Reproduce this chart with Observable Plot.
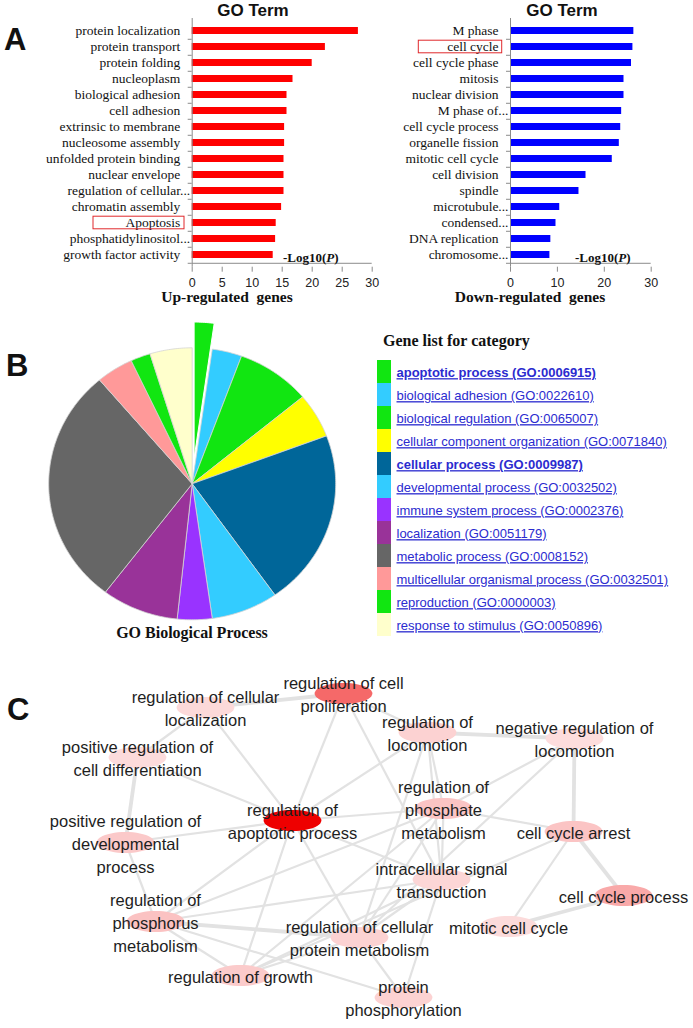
<!DOCTYPE html>
<html><head><meta charset="utf-8">
<script src="https://cdn.jsdelivr.net/npm/d3@7"></script>
<script src="https://cdn.jsdelivr.net/npm/@observablehq/plot@0.6"></script>
<style>
body{margin:0;background:#fff;}
#root{position:relative;width:693px;height:1028px;overflow:hidden;background:#fff;}
.t{position:absolute;white-space:pre;line-height:1;}
.legendplot text{text-decoration:underline;}
</style></head><body><div id="root"></div>
<script>
// ---------- Panel A data ----------
const upTerms = ["protein localization","protein transport","protein folding","nucleoplasm","biological adhesion","cell adhesion","extrinsic to membrane","nucleosome assembly","unfolded protein binding","nuclear envelope","regulation of cellular...","chromatin assembly","Apoptosis","phosphatidylinositol...","growth factor activity"];
const upValues = [27.7,22.2,20.0,16.8,15.8,15.8,15.4,15.4,15.3,15.3,15.3,14.9,14.0,13.9,13.5];
const downTerms = ["M phase","cell cycle","cell cycle phase","mitosis","nuclear division","M phase of...","cell cycle process","organelle fission","mitotic cell cycle","cell division","spindle","microtubule...","condensed...","DNA replication","chromosome..."];
const downValues = [26.3,26.1,25.8,24.2,24.2,23.7,23.5,23.2,21.7,16.1,14.6,10.5,9.7,8.6,8.4];
const upTicks = [0,5,10,15,20,25,30];
const downTicks = [0,10,20,30];
const upHighlight = ["Apoptosis"];
const downHighlight = ["cell cycle"];

// ---------- Panel B data ----------
const bpCategories = ["apoptotic process","biological adhesion","biological regulation","cellular component organization","cellular process","developmental process","immune system process","localization","metabolic process","multicellular organismal process","reproduction","response to stimulus"];
const bpIds = ["GO:0006915","GO:0022610","GO:0065007","GO:0071840","GO:0009987","GO:0032502","GO:0002376","GO:0051179","GO:0008152","GO:0032501","GO:0000003","GO:0050896"];
const bpCounts = [8,12,30,19,75,27,14,31,102,15,8,17];
const bpColors = ["#11e611","#33ccff","#11e611","#ffff00","#006699","#33ccff","#9933ff","#993399","#666666","#ff9999","#11e611","#ffffcc"];
const bpExploded = ["apoptotic process"];
const bpBold = ["apoptotic process","cellular process"];

// ---------- Panel C data ----------
const netIds = ["prolif","cellLoc","cellDiff","locom","negLocom","phosphate","apopt","devel","arrest","intra","ccProc","phosphorus","protMet","mitotic","growth","phosphoryl"];
const netLabels = ["regulation of cell\nproliferation","regulation of cellular\nlocalization","positive regulation of\ncell differentiation","regulation of\nlocomotion","negative regulation of\nlocomotion","regulation of\nphosphate\nmetabolism","regulation of\napoptotic process","positive regulation of\ndevelopmental\nprocess","cell cycle arrest","intracellular signal\ntransduction","cell cycle process","regulation of\nphosphorus\nmetabolism","regulation of cellular\nprotein metabolism","mitotic cell cycle","regulation of growth","protein\nphosphorylation"];
const netX = [343,205,137,427,574,443,292,125,573,441,623,155,359,508,240,403];
const netY = [693,707,757,732,738,808,820,842,831,879,895,921,937,926,975,997];
const netScore = [0.54,0.05,0.04,0.08,0.03,0.14,1,0.12,0.14,0.06,0.26,0.15,0.08,0.04,0.11,0.08];
const edgeFrom = ["cellLoc","cellLoc","cellLoc","cellDiff","cellDiff","devel","devel","prolif","prolif","prolif","locom","locom","locom","locom","locom","negLocom","negLocom","negLocom","phosphate","phosphate","phosphate","phosphate","phosphate","phosphate","apopt","apopt","apopt","apopt","arrest","arrest","arrest","ccProc","intra","intra","intra","intra","phosphorus","phosphorus","phosphorus","protMet","protMet"];
const edgeTo = ["prolif","apopt","cellDiff","apopt","devel","apopt","phosphorus","apopt","intra","locom","negLocom","apopt","phosphate","intra","protMet","arrest","phosphate","protMet","apopt","arrest","phosphorus","protMet","growth","intra","intra","phosphorus","growth","protMet","ccProc","mitotic","growth","mitotic","phosphorus","growth","protMet","phosphoryl","protMet","growth","phosphoryl","growth","phosphoryl"];
const edgeWeight = [2,1,1,1,2,1,1,1,1,1,2,1,1,1,1,2,1,1,1,1,1,1,1,1,1,1,1,1,2,1,1,2,1,1,1,1,2,1,1,1,1];

// ---------- helpers ----------
const root = document.getElementById("root");
const SERIF = "'Liberation Serif','Times New Roman',serif";
const SANS = "'Liberation Sans',Arial,sans-serif";
function place(el, left, top) {
  el.style.position = "absolute"; el.style.left = left + "px"; el.style.top = top + "px";
  root.appendChild(el); return el;
}
function label(html, x, baseline, {size = 15, weight = "bold", family = SERIF, anchor = "start", color = "#111"} = {}) {
  const d = document.createElement("div");
  d.className = "t"; d.innerHTML = html;
  Object.assign(d.style, {fontSize: size + "px", fontWeight: weight, fontFamily: family, color,
    left: x + "px", top: (baseline - 0.84 * size) + "px"});
  if (anchor === "middle") d.style.transform = "translateX(-50%)";
  if (anchor === "end") d.style.transform = "translateX(-100%)";
  root.appendChild(d);
}

// ---------- Panel A ----------
function barChart(terms, values, ticks, highlight, color, o) {
  const data = terms.map((term, i) => ({term, value: values[i]}));
  const top = 18, bottom = 266.7, H = 310;
  const step = (bottom - top) / terms.length;
  const axisColor = "#8c8c8c";
  const labelStyle = {x: 0, y: "term", text: "term", textAnchor: "end", fontSize: 13.5, fontFamily: SERIF, fill: "#111"};
  return Plot.plot({
    width: o.width, height: H,
    marginLeft: o.ml, marginRight: o.width - o.ml - o.plotW, marginTop: top, marginBottom: H - bottom,
    style: {background: "transparent", overflow: "visible", color: "#222"},
    x: {domain: [0, 30]},
    y: {domain: terms, paddingInner: 0.55, paddingOuter: 0.275},
    marks: [
      Plot.barX(data, {x: "value", y: "term", fill: color}),
      Plot.ruleX([0], {stroke: axisColor}),
      Plot.ruleY([terms[terms.length - 1]], {dy: step / 2, stroke: axisColor}),
      Plot.axisY({tickSize: 4, tickFormat: () => "", dy: step / 2, stroke: axisColor, label: null}),
      Plot.axisX({ticks, tickSize: 5, tickPadding: 6, fontSize: 12.5, fontFamily: SANS, stroke: axisColor, label: null}),
      Plot.text(data.filter(d => !d.term.endsWith("...")), {...labelStyle, dx: -12}),
      Plot.text(data.filter(d => d.term.endsWith("...")), {...labelStyle, dx: -2}),
      Plot.barX(highlight, {y: d => d, x1: 0, x2: 0, insetLeft: o.boxL, insetRight: o.boxR, insetTop: -2.8, insetBottom: -2.8, fill: "none", stroke: "#e0282c", strokeWidth: 1})
    ]
  });
}
place(barChart(upTerms, upValues, upTicks, upHighlight, "#ff0000", {width: 390, ml: 191.7, plotW: 180, boxL: -98.7, boxR: 7.7}), 0, 0);
place(barChart(downTerms, downValues, downTicks, downHighlight, "#0000ff", {width: 303, ml: 120, plotW: 140.7, boxL: -91.7, boxR: 8.3}), 390, 0);

label("A", 4, 50, {size: 31, family: SANS});
label("GO Term", 253, 16, {size: 17, family: SANS, anchor: "middle"});
label("GO Term", 562, 16, {size: 17, family: SANS, anchor: "middle"});
label("-Log10(<i>P</i>)", 283, 262, {size: 13});
label("-Log10(<i>P</i>)", 575, 262, {size: 13});
label("Up-regulated&nbsp; genes", 227, 302.5, {size: 15.5, anchor: "middle"});
label("Down-regulated&nbsp; genes", 530, 302.5, {size: 15.5, anchor: "middle"});

// ---------- Panel B: pie ----------
const arcs = d3.pie().sort(null).value(d => d)(bpCounts);
const piePts = [];
arcs.forEach((a, i) => {
  const cat = bpCategories[i];
  const off = bpExploded.includes(cat) ? 0.19 : 0;
  const mid = (a.startAngle + a.endAngle) / 2;
  const cx = off * Math.sin(mid), cy = off * Math.cos(mid);
  piePts.push({cat, x: cx, y: cy});
  const n = Math.max(2, Math.ceil((a.endAngle - a.startAngle) / 0.015));
  for (let k = 0; k <= n; k++) {
    const t = a.startAngle + (a.endAngle - a.startAngle) * k / n;
    piePts.push({cat, x: cx + Math.sin(t), y: cy + Math.cos(t)});
  }
  piePts.push({cat, x: cx, y: cy});
});
const colorScale = {domain: bpCategories, range: bpColors};
place(Plot.plot({
  width: 360, height: 340, marginLeft: 48.2, marginRight: 24.8, marginTop: 37.3, marginBottom: 30.7,
  style: {background: "transparent", overflow: "visible"},
  x: {domain: [-1, 1], axis: null}, y: {domain: [-1, 1], axis: null},
  color: colorScale,
  marks: [
    Plot.line(piePts.filter(d => !bpExploded.includes(d.cat)), {x: "x", y: "y", z: "cat", fill: "cat", stroke: "#d4d4d4", strokeWidth: 0.8}),
    Plot.line(piePts.filter(d => bpExploded.includes(d.cat)), {x: "x", y: "y", z: "cat", fill: "cat", stroke: "#ffffff", strokeWidth: 1})
  ]
}), 0, 310);
label("B", 6, 376, {size: 31, family: SANS});
label("GO Biological Process", 192, 638, {size: 16, anchor: "middle"});

// ---------- Panel B: legend ----------
const legendRows = bpCategories.map((cat, i) => ({cat, text: cat + " (" + bpIds[i] + ")", bold: bpBold.includes(cat)}));
place(Plot.plot({
  className: "legendplot",
  width: 333, height: 330, marginLeft: 16.7, marginRight: 302, marginTop: 36.7, marginBottom: 10,
  style: {background: "transparent", overflow: "visible"},
  x: {type: "band", domain: ["swatch"], padding: 0, axis: null},
  y: {domain: bpCategories, padding: 0, axis: null},
  color: colorScale,
  marks: [
    Plot.cell(bpCategories, {x: () => "swatch", y: d => d, fill: d => d, inset: 0}),
    Plot.text(legendRows.filter(d => !d.bold), {x: () => "swatch", y: "cat", text: "text", textAnchor: "start", dx: 12, dy: 1, fill: "#2b2bcf", fontSize: 13, fontFamily: SANS}),
    Plot.text(legendRows.filter(d => d.bold), {x: () => "swatch", y: "cat", text: "text", textAnchor: "start", dx: 12, dy: 1, fill: "#2b2bcf", fontSize: 13, fontWeight: "bold", fontFamily: SANS})
  ]
}), 360, 320);
label("Gene list for category", 383, 346, {size: 16});

// ---------- Panel C: network ----------
const nodes = netIds.map((id, i) => ({id, label: netLabels[i], x: netX[i], y: netY[i], score: netScore[i]}));
const byId = Object.fromEntries(nodes.map(d => [d.id, d]));
const edges = edgeFrom.map((f, i) => ({from: byId[f], to: byId[edgeTo[i]], w: edgeWeight[i]}));
const ellipseSymbol = {
  draw(ctx, size) {
    const r = Math.sqrt(size / Math.PI), rx = r * 2.75, ry = r, n = 48;
    for (let k = 0; k < n; k++) {
      const a = 2 * Math.PI * k / n;
      const px = rx * Math.cos(a), py = ry * Math.sin(a);
      if (k === 0) ctx.moveTo(px, py); else ctx.lineTo(px, py);
    }
    ctx.closePath();
  }
};
place(Plot.plot({
  width: 693, height: 378, margin: 0,
  style: {background: "transparent", overflow: "visible"},
  x: {domain: [0, 693], range: [0, 693], axis: null},
  y: {domain: [650, 1028], range: [0, 378], axis: null},
  color: {type: "linear", domain: [0, 1], range: ["#fde4e4", "#ee0000"], interpolate: "rgb"},
  marks: [
    Plot.link(edges, {x1: d => d.from.x, y1: d => d.from.y, x2: d => d.to.x, y2: d => d.to.y, stroke: "#e2e2e2", strokeWidth: d => 2.2 + 1.6 * (d.w - 1)}),
    Plot.dot(nodes, {x: "x", y: "y", r: 10.5, symbol: ellipseSymbol, fill: "score"}),
    Plot.text(nodes, {x: "x", y: "y", text: "label", fontSize: 16.5, lineHeight: 1.38, fill: "#1e1e1e", fontFamily: SANS})
  ]
}), 0, 650);
label("C", 7, 720, {size: 31, family: SANS});
</script></body></html>
